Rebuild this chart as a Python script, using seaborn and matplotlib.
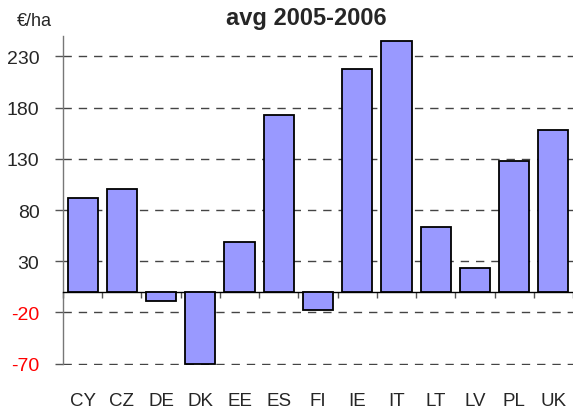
import numpy as np
import matplotlib
matplotlib.use("Agg")
import matplotlib.pyplot as plt
import seaborn as sns

countries = ["CY", "CZ", "DE", "DK", "EE", "ES", "FI", "IE", "IT", "LT", "LV", "PL", "UK"]
values = [92, 101, -9, -70, 49, 173, -18, 218, 245, 63, 23, 128, 158]
yticks = [-70, -20, 30, 80, 130, 180, 230]

sns.set_style("white")
plt.rcParams["font.family"] = ["Liberation Sans", "DejaVu Sans"]

fig = plt.figure(figsize=(5.73, 4.10), dpi=100)
ax = fig.add_axes([0.11, 0.108, 0.89, 0.802])

sns.barplot(x=countries, y=values, color="#9999FF", saturation=1,
            edgecolor="black", linewidth=1.3, width=0.77, ax=ax, zorder=3)

ax.set_ylim(-71, 250)
ax.set_xlim(-0.5, len(countries) - 0.5)
ax.set_yticks(yticks)
ax.set_yticklabels([str(v) for v in yticks], fontsize=14)
for lbl, v in zip(ax.get_yticklabels(), yticks):
    if v < 0:
        lbl.set_color("red")
ax.tick_params(axis="y", direction="out", length=6, width=1, color="#555555",
               pad=11, left=True)
ax.yaxis.grid(True, linestyle=(0, (6, 5)), color="#444444", linewidth=1)
ax.set_axisbelow(True)

for s in ["top", "right"]:
    ax.spines[s].set_visible(False)
ax.spines["left"].set_color("#777777")
ax.spines["left"].set_linewidth(1)
ax.spines["left"].set_bounds(-70, 250)
ax.spines["bottom"].set_position(("data", 0))
ax.spines["bottom"].set_color("black")
ax.spines["bottom"].set_linewidth(1)

# category boundaries as small ticks on the zero line
ax.set_xticks(np.arange(-0.5, len(countries)), minor=True)
ax.tick_params(axis="x", which="major", length=0, labelbottom=False, bottom=False)
ax.tick_params(axis="x", which="minor", direction="out", length=4, width=1,
               color="#555555", bottom=True)
ax.set_xlabel("")
ax.set_ylabel("")

sec = ax.secondary_xaxis("bottom")
sec.set_xticks(range(len(countries)), labels=countries, fontsize=13.5)
sec.tick_params(length=0, pad=20)
sec.spines["bottom"].set_visible(False)

fig.text(306 / 573, 1 - 18 / 410, "avg 2005-2006", fontsize=17, fontweight="bold",
         ha="center", va="center")
fig.text(17 / 573, 1 - 22 / 410, "€/ha", fontsize=13, ha="left", va="center")

fig.savefig("out.png", dpi=100)
